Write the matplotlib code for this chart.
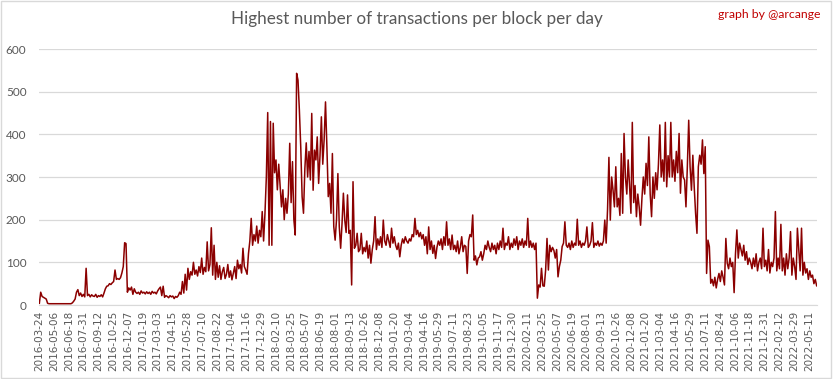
import pandas as pd
import matplotlib
matplotlib.use("Agg")
from matplotlib import pyplot as plt
from matplotlib.patches import Rectangle

### Data (one value every 4 days from 2016-03-24)
start_date = "2016-03-24"
step_days = 4
max_tx = [
    4, 30, 20, 18, 16, 14, 4, 3, 3, 3, 3, 3, 3, 3, 3, 3, 3, 3, 3, 3,
    3, 3, 3, 3, 5, 9, 14, 30, 36, 22, 28, 20, 25, 19, 86, 22, 25, 19, 24, 21,
    20, 25, 18, 22, 20, 24, 19, 28, 38, 44, 45, 50, 48, 52, 55, 82, 60, 62, 60, 64,
    75, 90, 146, 144, 30, 40, 35, 42, 25, 38, 30, 27, 30, 25, 33, 28, 30, 26, 31, 27,
    30, 25, 32, 28, 30, 26, 33, 38, 42, 22, 44, 18, 22, 20, 17, 22, 19, 21, 15, 20,
    18, 22, 30, 25, 55, 28, 72, 35, 86, 60, 78, 70, 100, 72, 82, 68, 90, 76, 110, 72,
    88, 78, 148, 80, 95, 181, 70, 140, 60, 100, 65, 92, 60, 78, 88, 62, 72, 95, 65, 80,
    59, 75, 90, 62, 105, 85, 95, 75, 133, 90, 82, 72, 120, 150, 203, 140, 165, 150, 185, 145,
    175, 160, 219, 150, 215, 300, 451, 140, 430, 140, 426, 310, 340, 270, 330, 280, 230, 270, 200, 250,
    215, 260, 379, 240, 336, 200, 164, 543, 527, 457, 371, 254, 215, 320, 380, 300, 360, 293, 449, 269,
    363, 340, 394, 285, 350, 441, 330, 387, 476, 371, 254, 285, 215, 355, 184, 152, 200, 308, 184, 133,
    190, 262, 199, 170, 258, 168, 175, 47, 289, 133, 140, 168, 125, 130, 168, 120, 135, 125, 150, 110,
    140, 98, 130, 150, 207, 130, 155, 140, 160, 135, 199, 150, 140, 165, 150, 135, 180, 145, 160, 140,
    130, 145, 113, 140, 155, 145, 160, 150, 145, 155, 150, 165, 160, 203, 165, 175, 160, 170, 155, 165,
    140, 160, 120, 183, 130, 150, 121, 140, 109, 135, 150, 140, 155, 130, 160, 140, 195, 140, 155, 130,
    164, 130, 140, 125, 150, 120, 135, 160, 125, 140, 137, 74, 150, 165, 160, 211, 105, 115, 94, 110,
    113, 125, 105, 120, 140, 130, 150, 135, 125, 145, 130, 140, 120, 145, 130, 150, 135, 180, 130, 145,
    140, 160, 130, 145, 135, 155, 140, 160, 130, 150, 140, 155, 135, 150, 140, 203, 135, 150, 135, 145,
    130, 145, 16, 47, 42, 86, 45, 44, 82, 156, 82, 140, 125, 135, 128, 110, 130, 66, 90, 105,
    137, 145, 195, 140, 135, 145, 130, 150, 135, 145, 140, 201, 140, 150, 135, 145, 140, 150, 183, 135,
    140, 150, 193, 135, 145, 140, 150, 138, 145, 140, 150, 199, 145, 223, 346, 199, 300, 269, 230, 324,
    230, 250, 210, 355, 215, 402, 300, 260, 340, 280, 215, 428, 240, 280, 207, 260, 230, 187, 250, 300,
    260, 332, 280, 394, 260, 207, 300, 250, 310, 270, 330, 422, 300, 340, 290, 428, 277, 350, 300, 428,
    300, 340, 290, 360, 310, 402, 262, 340, 300, 293, 230, 324, 433, 324, 269, 351, 277, 215, 168, 324,
    351, 330, 387, 308, 371, 74, 152, 137, 51, 60, 45, 65, 40, 60, 74, 55, 80, 65, 47, 156,
    98, 85, 110, 90, 100, 29, 120, 176, 110, 145, 130, 115, 140, 105, 125, 95, 110, 100, 85, 110,
    90, 120, 80, 100, 110, 85, 180, 90, 105, 80, 130, 75, 100, 90, 110, 219, 80, 110, 85, 189,
    80, 110, 70, 120, 85, 110, 172, 70, 110, 90, 60, 180, 130, 80, 180, 70, 100, 75, 85, 60,
    80, 65, 70, 50, 60, 45,
]

tick_labels = [
    "2016-03-24", "2016-05-06", "2016-06-18", "2016-07-31", "2016-09-12", "2016-10-25",
    "2016-12-07", "2017-01-19", "2017-03-03", "2017-04-15", "2017-05-28", "2017-07-10",
    "2017-08-22", "2017-10-04", "2017-11-16", "2017-12-29", "2018-02-10", "2018-03-25",
    "2018-05-07", "2018-06-19", "2018-08-01", "2018-09-13", "2018-10-26", "2018-12-08",
    "2019-01-20", "2019-03-04", "2019-04-16", "2019-05-29", "2019-07-11", "2019-08-23",
    "2019-10-05", "2019-11-17", "2019-12-30", "2020-02-11", "2020-03-25", "2020-05-07",
    "2020-06-19", "2020-08-01", "2020-09-13", "2020-10-26", "2020-12-08", "2021-01-20",
    "2021-03-04", "2021-04-16", "2021-05-29", "2021-07-11", "2021-08-24", "2021-10-06",
    "2021-11-18", "2021-12-31", "2022-02-12", "2022-03-29", "2022-05-11",
]

dates = pd.date_range(start_date, periods=len(max_tx), freq="%dD" % step_days)

### Plot
fig = plt.figure(figsize=(8.33, 3.79), dpi=100)
ax = fig.add_axes([39 / 833, 1 - 305 / 379, 778 / 833, 256 / 379])

ax.plot(dates, max_tx, color="#8B0000", linewidth=1.1)

ax.set_ylim(0, 600)
ax.set_yticks(range(0, 601, 100))
ax.set_xlim(dates[0] - pd.Timedelta(days=1), dates[-1] + pd.Timedelta(days=1))
ax.set_xticks(pd.to_datetime(tick_labels))
ax.set_xticklabels(tick_labels, rotation=90)

# grid + tick styling
ax.grid(axis="y", color="#D9D9D9", linewidth=0.9)
ax.set_axisbelow(True)
ax.tick_params(axis="both", which="both", length=0, colors="#595959")
ax.tick_params(axis="y", labelsize=8.5, pad=9)
ax.tick_params(axis="x", labelsize=7.5, pad=4)
for lab in ax.get_yticklabels():
    lab.set_family("Lato")

for side in ["top", "right", "left"]:
    ax.spines[side].set_visible(False)
ax.spines["bottom"].set_color("#D9D9D9")

fig.text(0.5, 1 - 19 / 379, "Highest number of transactions per block per day",
         ha="center", va="center", fontsize=12.3, color="#595959", family="Lato")
fig.text(820 / 833, 1 - 15 / 379, "graph by @arcange", ha="right", va="center",
         fontsize=8.8, color="#C00000", family="Lato")

# light frame around the chart
fig.patches.append(Rectangle((0.001, 0.002), 0.997, 0.995, transform=fig.transFigure,
                             fill=False, edgecolor="#D9D9D9", linewidth=1.0))

fig.savefig("out.png", dpi=100)
